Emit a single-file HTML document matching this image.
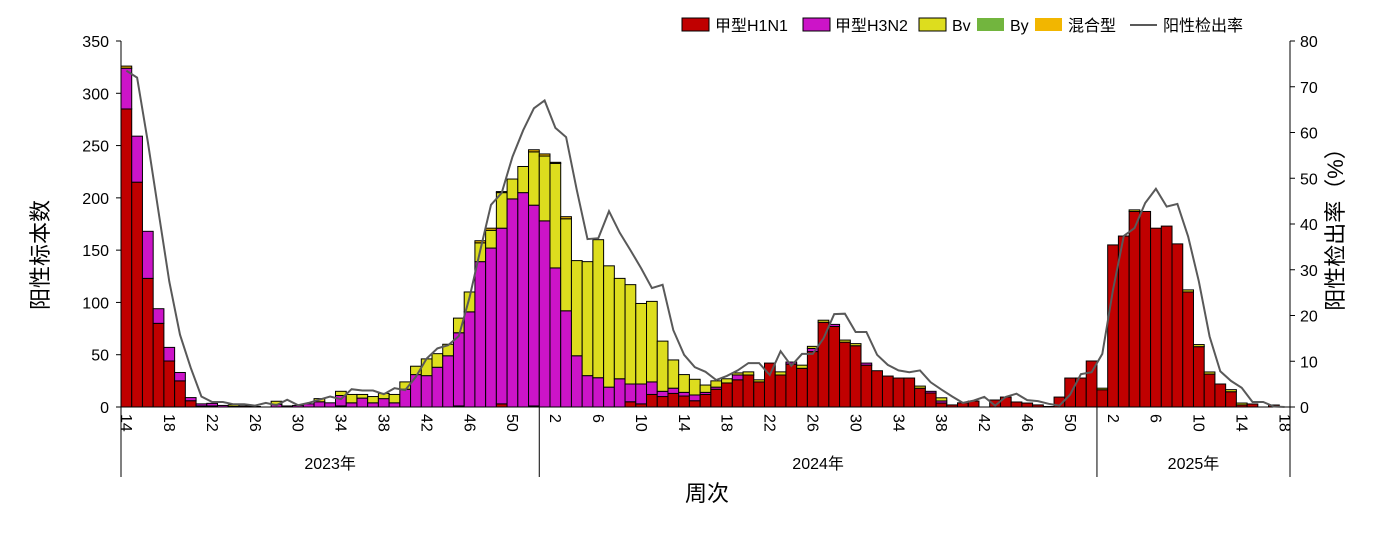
<!DOCTYPE html>
<html><head><meta charset="utf-8"><style>
html,body{margin:0;padding:0;background:#fff;}
svg{display:block;font-family:"Liberation Sans","Noto Sans CJK SC",sans-serif;}
</style></head><body>
<svg id="chart" width="1390" height="550" viewBox="0 0 1390 550" xmlns="http://www.w3.org/2000/svg">
<g id="legend" font-size="16">
 <g><rect x="682" y="18" width="27" height="13" fill="#C00000" stroke="#000"/><text x="715" y="31">甲型H1N1</text></g>
 <g><rect x="803" y="18" width="27" height="13" fill="#CC14C8" stroke="#000"/><text x="835" y="31">甲型H3N2</text></g>
 <g><rect x="919" y="18" width="27" height="13" fill="#DDDD1E" stroke="#000"/><text x="952" y="31">Bv</text></g>
 <g><rect x="977" y="18" width="27" height="13" fill="#72B53E"/><text x="1010" y="31">By</text></g>
 <g><rect x="1035" y="18" width="27" height="13" fill="#F2B600"/><text x="1068" y="31">混合型</text></g>
 <g><line x1="1130" y1="25" x2="1157" y2="25" stroke="#595959" stroke-width="2"/><text x="1163" y="31">阳性检出率</text></g>
</g>
<g id="bars"></g>
<g id="axes"></g>
<path id="rateLine" fill="none" stroke="#595959" stroke-width="2"/>
<text font-size="22" text-anchor="middle" transform="translate(48,255) rotate(-90)">阳性标本数</text>
<text font-size="22" text-anchor="middle" transform="translate(1343,224) rotate(-90)">阳性检出率（%）</text>
<text font-size="22" text-anchor="middle" x="707" y="501">周次</text>
</svg>
<script>
const weeks2023 = [14,15,16,17,18,19,20,21,22,23,24,25,26,27,28,29,30,31,32,33,34,35,36,37,38,39,40,41,42,43,44,45,46,47,48,49,50,51,52];
const years = ["2023年","2024年","2025年"];
const yearCounts = [39,52,18];
const h1n1 = [285,215,123,80,44,25,6,1,1,0,0,1,0.5,0,0,0,0,0,0,0,1,0,0,0,0,0,0,0,0,0,0,1,0,0,0,3,0,0,1,
 0,0,0,0,0,0,0,0,5,3,12,10,13,10.5,6,12,17,23,26,30.6,24,42,30.6,41,37,53,81,77,62,58.6,40,34.7,29.6,27.7,27.7,18,13.4,3.8,2,4,5.7,0,6.7,9.5,4.8,3.8,2,0.5,9.5,27.7,27.7,44,
 16.5,155,163.5,187,187,171,173,156,110,57.7,31.5,22,14.6,2,2.9,0,1.9,0];
const h3n2 = [39,44,45,14,13,8,3,2,2.5,1.5,0.5,0,0,0,2.5,1,1.5,3,5,4,10,4,8.5,4,8,4,17,31,30,38,49,70,91,139,152,168,199,205,192,
 178,133,92,49,30,28,19,27,17,19,12,5,5,3.5,5.5,2,2,0,4.6,0,0,0,0,2,0,3,0,2,0,0,2,0,0,0,0,0,1.6,2,0,0,0,0,0,0,0,0,0,0,0,0,0,0,
 0,0,0,0,0,0,0,0,0,0,0,0,0,0,0,0,0,0];
const bv = [0,0,0,0,0,0,0,0,0,0,1.5,0,0,0,3,0,0,0,3,0,4,8,3.5,6,5,8,7,8,16,13,11,14,19,18,17,34,19,25,51,
 62,100,88,91,109,132,116,96,95,77,77,48,27,17,15,7,6,4,2,3,2,0,3,0,3,2,2,0,2,2,0,0,0,0,0,2,0,3,0,0,0,0,0,0,0,0,0,0,0,0,0,0,
 1.5,0,0,1.5,0,0,0,0,2,2,2,0,2,1.8,0,0,0,0];
const by = new Array(109).fill(0);
const mixed = [2,0,0,0,0,0,0,0,0,0,0,0,0,0,0,0,0,0,0,0,0,0,0,0,0,0,0,0,0,0,0,0,0,2,2,1,0,0,2,
 2,1,2,0,0,0,0,0,0,0,0,0,0,0,0,0,0,0,0,0,0,0,0,0,0,0,0,0,0,0,0,0,0,0,0,0,0,0,0,0,0,0,0,0,0,0,0,0,0,0,0,
 0,0,0,0,0,0,0,0,0,0,0,0,0,0,0,0,0,0];
const rate = [73.5,72,58,42.7,27.4,15.8,8.6,2.3,1.1,1.1,0.6,0.6,0.3,0.9,0.4,1.6,0.4,0.9,1.6,2.3,1.7,3.9,3.6,3.6,2.8,4.1,3.7,6.6,10.6,12.8,13.5,15.5,24,34.3,44.2,46.8,54.7,60.5,65.3,
 67,61,59,47.4,36.7,36.9,42.8,38.1,34.3,30.3,26,26.7,16.8,11.4,8.7,7.7,5.9,6.8,8,9.6,9.6,7,12.2,9,11.6,11.6,15,20.3,20.4,16.4,16.4,11.4,9.2,8,7.6,8,5.4,3.8,2.3,0.9,1.4,2.2,0.3,2.2,2.9,1.5,1.3,0.7,0.3,2.7,7.2,7.6,
 11.6,25.6,37.4,39.1,44.6,47.7,43.8,44.4,37.3,27.5,15.4,7.8,5.7,4.2,1.1,1.1,0.1,0];
const leftTicks = [0,50,100,150,200,250,300,350];
const rightTicks = [0,10,20,30,40,50,60,70,80];

const NS="http://www.w3.org/2000/svg";
const X0=121, X1=1290, Y0=407, Y1=41, N=109;
const bw=(X1-X0)/N;
const yL=v=>Y0-(v/350)*(Y0-Y1);
const yR=v=>Y0-(v/80)*(Y0-Y1);
const xB=i=>X0+i*bw;
function mk(tag,attrs,parent){const e=document.createElementNS(NS,tag);for(const k in attrs)e.setAttribute(k,attrs[k]);parent.appendChild(e);return e;}
const barsG=document.getElementById('bars'), axesG=document.getElementById('axes');
const series=[[h1n1,'#C00000','h1n1'],[h3n2,'#CC14C8','h3n2'],[bv,'#DDDD1E','bv'],[by,'#72B53E','by'],[mixed,'#F2B600','mixed']];
for(let i=0;i<N;i++){
 let base=0;
 for(const [arr,col,nm] of series){
  const v=arr[i]; if(!v) continue;
  const r=mk('rect',{x:xB(i),y:yL(base+v),width:bw,height:yL(base)-yL(base+v),fill:col,stroke:'#000','stroke-width':1},barsG);
  
  
  base+=v;
 }
}
let d='';
rate.forEach((v,i)=>{d+=(i?'L':'M')+(xB(i)+bw/2).toFixed(1)+','+yR(v).toFixed(1);});
document.getElementById('rateLine').setAttribute('d',d);
mk('line',{x1:X0,y1:Y1,x2:X0,y2:Y0,stroke:'#000'},axesG);
mk('line',{x1:X1,y1:Y1,x2:X1,y2:Y0,stroke:'#000'},axesG);
mk('line',{x1:X0,y1:Y0,x2:X1,y2:Y0,stroke:'#000'},axesG);
leftTicks.forEach(v=>{
 mk('line',{x1:X0-5,y1:yL(v),x2:X0,y2:yL(v),stroke:'#000'},axesG);
 const t=mk('text',{x:X0-12,y:yL(v)+6,'text-anchor':'end','font-size':16},axesG);
 
 
 t.textContent=v;
});
rightTicks.forEach(v=>{
 mk('line',{x1:X1,y1:yR(v),x2:X1+5,y2:yR(v),stroke:'#000'},axesG);
 const t=mk('text',{x:X1+10,y:yR(v)+6,'font-size':16},axesG);
 
 
 t.textContent=v;
});
let idx=0;
const firstWeeks=[weeks2023[0],1,1];
yearCounts.forEach((cnt,yi)=>{
 const start=idx;
 for(let k=0;k<cnt;k++){
  const wk=firstWeeks[yi]+k;
  if((yi===0 && (wk-14)%4===0) || (yi>0 && (wk-2)%4===0)){
   const cx=xB(idx)+bw/2-1;
   const t=mk('text',{'font-size':16,transform:`translate(${cx},414) rotate(90)`,'dominant-baseline':'middle'},axesG);
   
   
   t.textContent=wk;
  }
  idx++;
 }
 mk('line',{x1:xB(start),y1:Y0,x2:xB(start),y2:477,stroke:'#000'},axesG);
 const t=mk('text',{x:(xB(start)+xB(idx))/2,y:469,'text-anchor':'middle','font-size':16},axesG);
 
 
 t.textContent=years[yi];
});
mk('line',{x1:X1,y1:Y0,x2:X1,y2:477,stroke:'#000'},axesG);
</script>
</body></html>
